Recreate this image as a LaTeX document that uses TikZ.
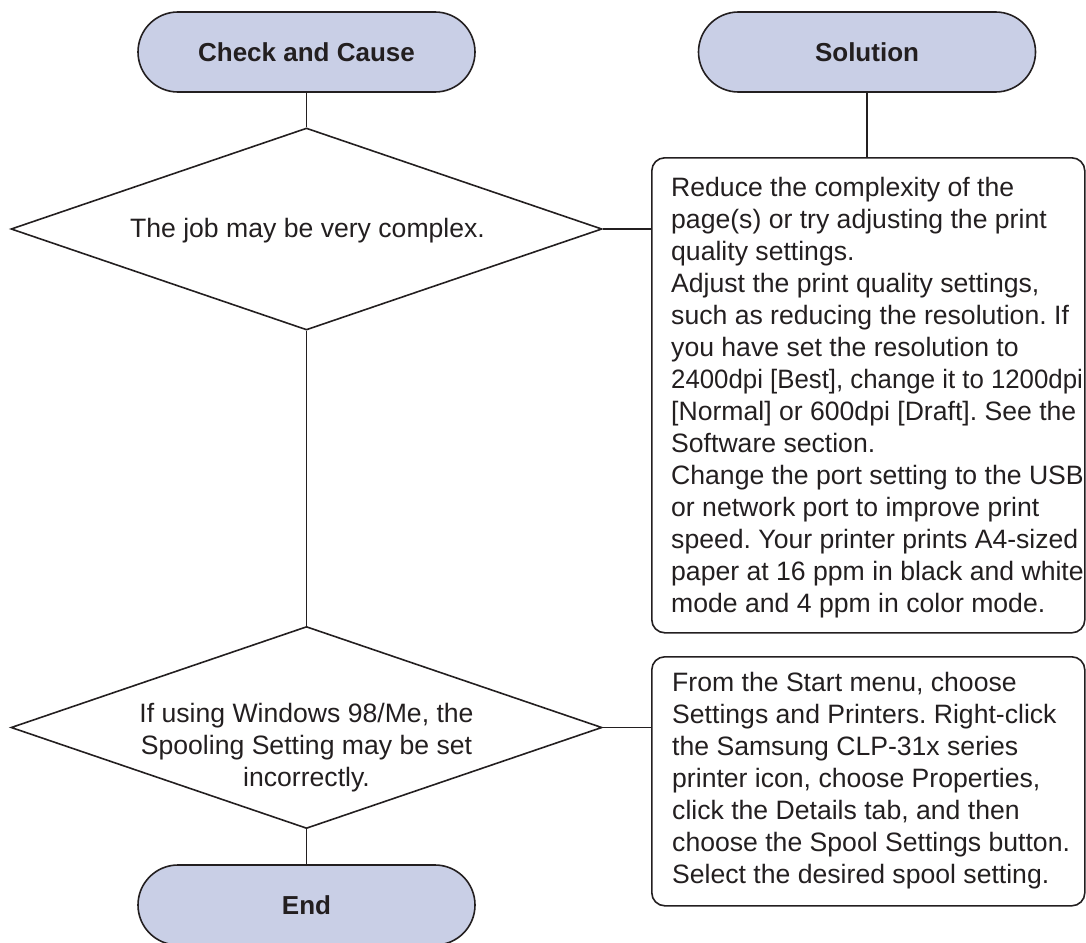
\documentclass[tikz,border=0pt]{standalone}
\usepackage{fontspec}
\usepackage{graphicx}
\setmainfont{Liberation Sans}
\frenchspacing
\usetikzlibrary{shapes.geometric,shapes.misc}
\definecolor{ink}{HTML}{231F20}
\definecolor{capfill}{RGB}{201,207,230}
\begin{document}
\begin{tikzpicture}[x=1pt,y=-1pt,
  conn/.style={draw=ink, line width=1.6pt},
  capsule/.style={rounded rectangle, draw=ink, line width=1.6pt, fill=capfill,
    minimum width=337pt, minimum height=80pt, inner sep=0pt,
    font=\fontsize{26pt}{30pt}\selectfont\bfseries, text=ink},
  decision/.style={diamond, draw=ink, line width=1.6pt, minimum width=591pt,
    minimum height=202pt, shape aspect=2.93, inner sep=0pt},
  dtext/.style={align=center, inner sep=0pt, text=ink},
  solbox/.style={rectangle, rounded corners=13pt, draw=ink, line width=1.6pt,
    minimum width=433pt, inner sep=0pt, anchor=north west},
  btext/.style={align=left, inner sep=0pt, text=ink, anchor=north west},
]
\useasboundingbox (0,0) rectangle (1086,942);

% headers
\node[capsule] (cc) at (306.5,52) {Check and Cause};
\node[capsule] (sol) at (867,52) {Solution};

% decisions
\node[decision] (d1) at (306.5,229) {};
\node[dtext, font=\fontsize{26.6pt}{32pt}\selectfont] (d1t) at (307.5,231) {The job may be very complex.};

\node[decision] (d2) at (306.5,727.5) {};
\node[dtext, anchor=north, font=\fontsize{26.6pt}{32pt}\selectfont] (d2t) at (306.5,703)
  {If using Windows 98/Me, the\\ Spooling Setting may be set\\ incorrectly.};

% end
\node[capsule] (end) at (306.5,905) {End};

% solution boxes
\node[solbox, minimum height=475pt] (s1) at (651,157) {};
\node[btext, font=\fontsize{26.6pt}{32pt}\selectfont] (s1t) at (671,177)
  {Reduce the complexity of the\\
   page(s) or try adjusting the print\\
   quality settings.\\
   Adjust the print quality settings,\\
   such as reducing the resolution. If\\
   you have set the resolution to\\
   \scalebox{0.97}[1]{2400dpi [Best], change it to 1200dpi}\\
   {[}Normal] or 600dpi {[}Draft]. See the\\
   Software section.\\
   Change the port setting to the USB\\
   or network port to improve print\\
   speed. Your printer prints A4-sized\\
   paper at 16 ppm in black and white\\
   mode and 4 ppm in color mode.};

\node[solbox, minimum height=249pt] (s2) at (651,656) {};
\node[btext, font=\fontsize{26.6pt}{32pt}\selectfont] (s2t) at (672,672)
  {From the Start menu, choose\\
   Settings and Printers. Right-click\\
   the Samsung CLP-31x series\\
   printer icon, choose Properties,\\
   click the Details tab, and then\\
   choose the Spool Settings button.\\
   Select the desired spool setting.};

% connectors
\draw[conn] (cc.south) -- (d1.north);
\draw[conn] (d1.south) -- (d2.north);
\draw[conn] (d2.south) -- (end.north);
\draw[conn] (sol.south) -- (sol.south |- s1.north);
\draw[conn] (d1.east) -- (d1.east -| s1.west);
\draw[conn] (d2.east) -- (d2.east -| s2.west);
\end{tikzpicture}
\end{document}
